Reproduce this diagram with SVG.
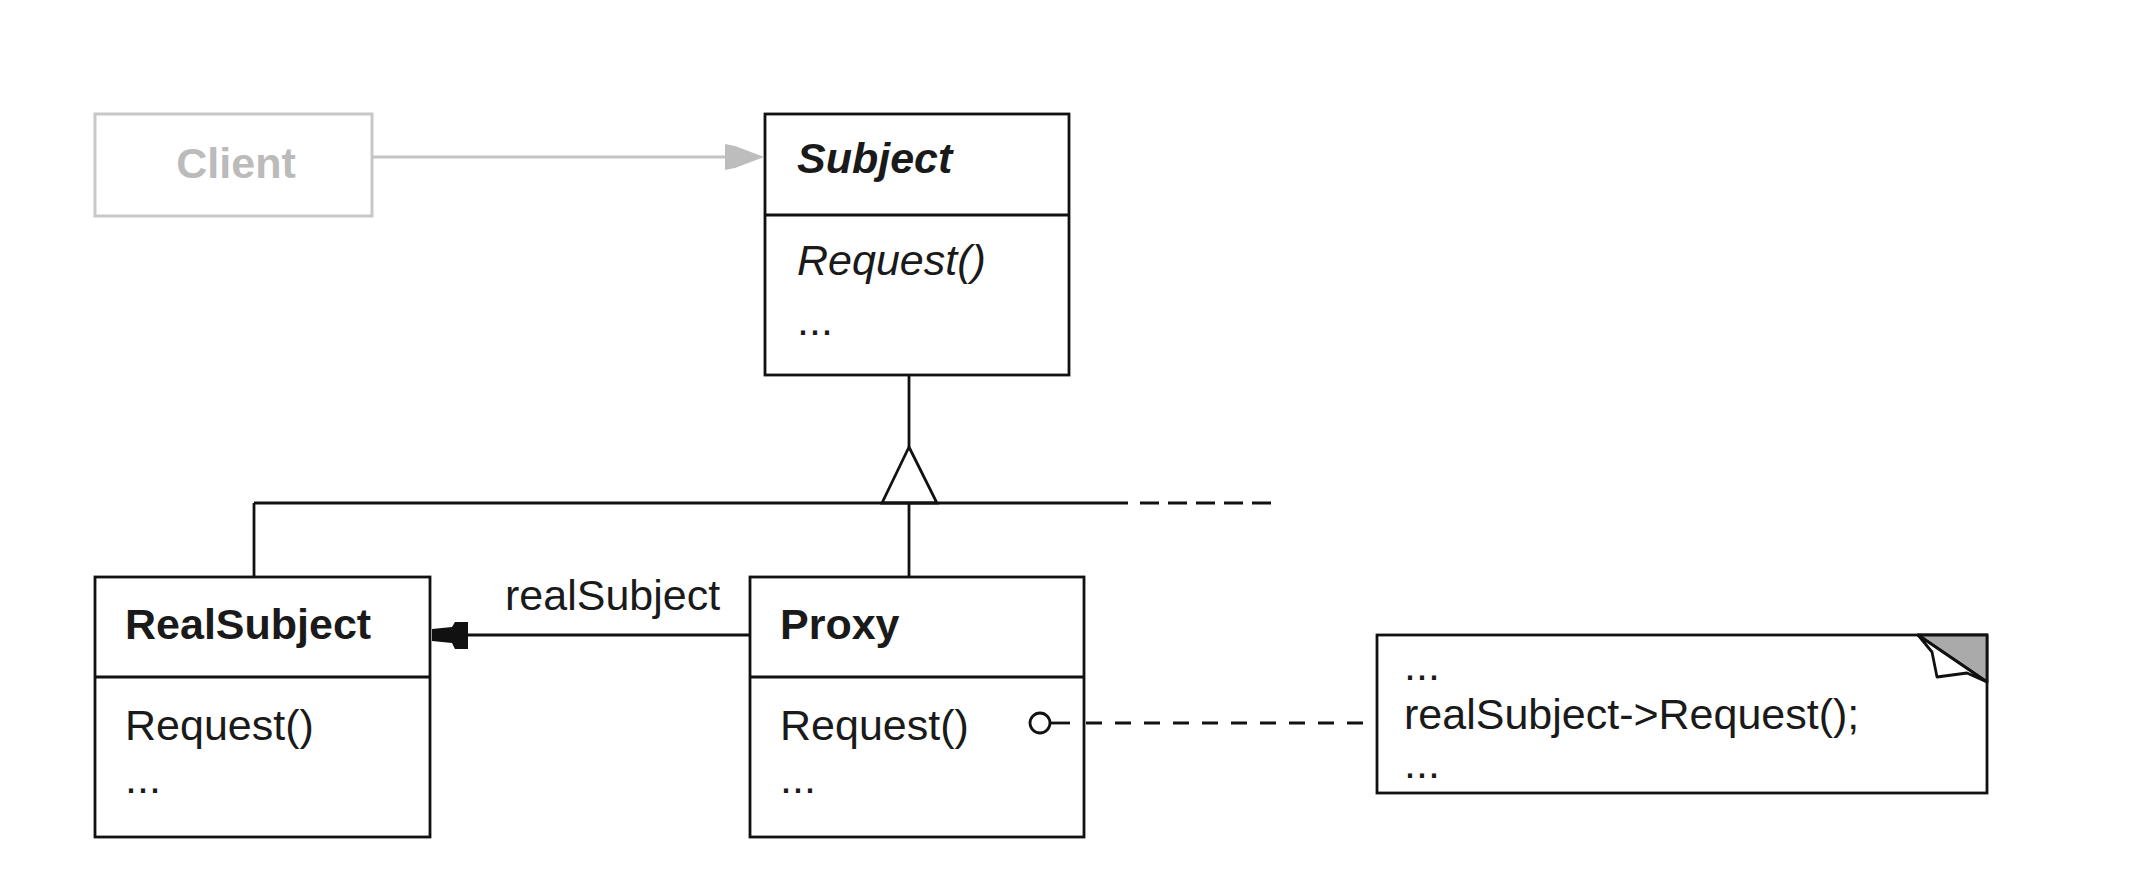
<svg xmlns="http://www.w3.org/2000/svg" width="2134" height="872" viewBox="0 0 2134 872">
<style>
.box{fill:#fff;stroke:#111;stroke-width:2.8}
.ln{fill:none;stroke:#111;stroke-width:2.8}
.t{font-family:"Liberation Sans",Arial,sans-serif;font-size:43px;fill:#1a1a1a}
.b{font-weight:bold}
.i{font-style:italic}
</style>
<rect width="2134" height="872" fill="#fff"/>
<g id="client">
  <rect x="95" y="114" width="277" height="102" fill="#fff" stroke="#c8c8c8" stroke-width="3"/>
  <text class="t b" x="236" y="178" text-anchor="middle" style="fill:#bbbbbb">Client</text>
</g>
<g id="subject">
  <rect class="box" x="765" y="114" width="304" height="261"/>
  <line class="ln" x1="765" y1="215" x2="1069" y2="215"/>
  <text class="t b i" x="797" y="173">Subject</text>
  <text class="t i" x="797" y="275">Request()</text>
  <text class="t" x="797" y="335">...</text>
</g>
<g id="realsubject">
  <rect class="box" x="95" y="577" width="335" height="260"/>
  <line class="ln" x1="95" y1="677" x2="430" y2="677"/>
  <text class="t b" x="125" y="639">RealSubject</text>
  <text class="t" x="125" y="740">Request()</text>
  <text class="t" x="125" y="793">...</text>
</g>
<g id="proxy">
  <rect class="box" x="750" y="577" width="334" height="260"/>
  <line class="ln" x1="750" y1="677" x2="1084" y2="677"/>
  <text class="t b" x="780" y="639">Proxy</text>
  <text class="t" x="780" y="740">Request()</text>
  <text class="t" x="780" y="793">...</text>
</g>
<g id="note">
  <rect class="box" x="1377" y="635" width="610" height="158"/>
  <polygon points="1918,635 1987,635 1987,682" fill="#aaaaaa" stroke="#111" stroke-width="2.8" stroke-linejoin="round"/>
  <polygon points="1918,635 1932,652 1937,677 1967,673 1987,682" fill="#fff" stroke="#111" stroke-width="2.8" stroke-linejoin="round"/>
  <text class="t" x="1404" y="680">...</text>
  <text class="t" x="1404" y="729">realSubject-&gt;Request();</text>
  <text class="t" x="1404" y="778">...</text>
</g>
<g id="connectors">
  <line x1="372" y1="157" x2="727" y2="157" stroke="#c4c4c4" stroke-width="3"/>
  <polygon points="725,144 735,146 764,157 735,168 725,170" fill="#bdbdbd"/>
  <line class="ln" x1="909" y1="375" x2="909" y2="447"/>
  <polygon class="ln" points="909,447 882,503 937,503"/>
  <line class="ln" x1="254" y1="503" x2="1128" y2="503"/>
  <line class="ln" x1="1140" y1="503" x2="1280" y2="503" stroke-dasharray="19 9"/>
  <line class="ln" x1="254" y1="503" x2="254" y2="577"/>
  <line class="ln" x1="909" y1="503" x2="909" y2="577"/>
  <line class="ln" x1="750" y1="635" x2="466" y2="635"/>
  <polygon points="432,629 452,627 455,622 468,622 468,649 455,649 452,643 432,641" fill="#111"/>
  <text class="t" x="505" y="610">realSubject</text>
  <circle cx="1040" cy="723" r="10" fill="#fff" stroke="#111" stroke-width="2.8"/>
  <line class="ln" x1="1050" y1="723" x2="1070" y2="723"/>
  <line class="ln" x1="1086" y1="723" x2="1377" y2="723" stroke-dasharray="16 13"/>
</g>
</svg>
